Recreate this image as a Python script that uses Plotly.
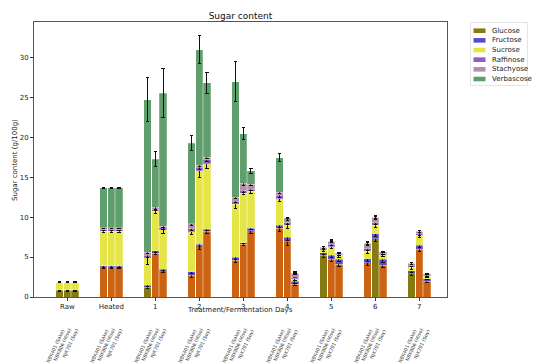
import plotly.graph_objects as go

groups = ["Raw", "Heated", "1", "2", "3", "4", "5", "6", "7"]
strains = ["NBK401 (Sake)", "NBK806 (Miso)", "NJK701 (Soy)"]
sugars = ["Glucose", "Fructose", "Sucrose", "Raffinose", "Stachyose", "Verbascose"]

# values per bar, group-major (Raw: Sake, Miso, Soy; Heated: ...; day 1..7)
glucose = [0.85, 0.85, 0.85, 3.8, 3.8, 3.8, 1.2, 5.5, 3.3, 2.7, 6.4, 8.2, 4.6, 6.6, 8.3,
           8.6, 6.9, 1.6, 5.2, 4.7, 4.1, 4.3, 7.3, 4.0, 2.9, 6.0, 2.0]
fructose = [0.05, 0.05, 0.05, 0.1, 0.1, 0.1, 0.3, 0.3, 0.15, 0.45, 0.2, 0.3, 0.4, 0.2, 0.3,
            0.4, 0.6, 0.4, 0.35, 0.5, 0.6, 0.5, 0.6, 0.7, 0.4, 0.5, 0.3]
sucrose = [0.95, 0.95, 0.95, 4.3, 4.3, 4.3, 3.4, 4.9, 4.95, 5.0, 9.2, 8.2, 6.6, 6.2, 4.6,
           3.3, 1.5, 0.3, 0.35, 1.1, 0.5, 0.9, 1.1, 0.6, 0.4, 1.2, 0.3]
raffinose = [0, 0, 0, 0.2, 0.2, 0.2, 0.3, 0.3, 0.25, 0.4, 0.4, 0.5, 0.4, 0.3, 0.3,
             0.4, 0.3, 0.2, 0.2, 0.3, 0.15, 0.35, 0.3, 0.15, 0.2, 0.25, 0.1]
stachyose = [0, 0, 0, 0.25, 0.25, 0.25, 0.4, 0.2, 0.2, 0.6, 0.3, 0.3, 0.5, 0.9, 0.6,
             0.4, 0.5, 0.5, 0.1, 0.4, 0.15, 0.65, 0.65, 0.2, 0.3, 0.25, 0.2]
verbascose = [0, 0, 0, 5.0, 5.0, 5.0, 19.1, 6.05, 16.65, 10.1, 14.45, 9.3, 14.4, 6.25, 1.7,
              4.3, 0.1, 0, 0, 0, 0, 0, 0, 0, 0, 0, 0]

glucose_err = [0.1, 0.1, 0.1, 0.25, 0.25, 0.25, 0.15, 0.2, 0.2, 0.3, 0.4, 0.3, 0.3, 0.15, 0.3,
               0.4, 0.4, 0.2, 0.3, 0.2, 0.3, 0.3, 0.4, 0.3, 0.2, 0.3, 0.15]
fructose_err = [0.05, 0.05, 0.05, 0.15, 0.15, 0.15, 0.15, 0.2, 0.15, 0.25, 0.3, 0.2, 0.3, 0.15, 0.2,
                0.25, 0.4, 0.3, 0.2, 0.25, 0.3, 0.3, 0.3, 0.35, 0.25, 0.25, 0.15]
sucrose_err = [0.05, 0.05, 0.05, 0.15, 0.15, 0.15, 0.8, 0.3, 0.4, 0.3, 0.8, 0.6, 0.5, 0.2, 0.3,
               0.3, 0.4, 0.2, 0.2, 0.25, 0.25, 0.2, 0.3, 0.2, 0.2, 0.25, 0.15]
raffinose_err = [0.05, 0.05, 0.05, 0.1, 0.1, 0.1, 0.2, 0.2, 0.2, 0.2, 0.2, 0.3, 0.2, 0.2, 0.2,
                 0.2, 0.2, 0.1, 0.1, 0.2, 0.1, 0.2, 0.2, 0.1, 0.1, 0.2, 0.1]
stachyose_err = [0.05, 0.05, 0.05, 0.1, 0.1, 0.1, 0.2, 0.2, 0.2, 0.2, 0.2, 0.2, 0.2, 0.2, 0.2,
                 0.2, 0.2, 0.2, 0.1, 0.2, 0.1, 0.2, 0.2, 0.1, 0.1, 0.1, 0.1]
verbascose_err = [0.05, 0.05, 0.05, 0.1, 0.1, 0.1, 2.7, 0.9, 3.1, 0.9, 1.8, 1.3, 2.5, 0.7, 0.3,
                  0.5, 0.1, 0.05, 0.1, 0.1, 0.1, 0.1, 0.1, 0.1, 0.1, 0.1, 0.1]

# style
OLIVE, ORANGE = "#867b12", "#cc6312"
glucose_shade = [OLIVE, OLIVE, OLIVE, ORANGE, ORANGE, ORANGE, OLIVE, ORANGE, ORANGE,
                 ORANGE, ORANGE, ORANGE, ORANGE, ORANGE, ORANGE, ORANGE, ORANGE, ORANGE,
                 OLIVE, ORANGE, ORANGE, ORANGE, OLIVE, ORANGE, OLIVE, ORANGE, ORANGE]
colors = {"Glucose": OLIVE, "Fructose": "#5a4ec8", "Sucrose": "#e6e548",
          "Raffinose": "#8e5ec6", "Stachyose": "#b38fa8", "Verbascose": "#609e6d"}

values = [glucose, fructose, sucrose, raffinose, stachyose, verbascose]
errors = [glucose_err, fructose_err, sucrose_err, raffinose_err, stachyose_err, verbascose_err]

SP, BW = 0.175, 0.165
xs = [g + (j - 1) * SP for g in range(len(groups)) for j in range(len(strains))]

fig = go.Figure()
for name, vals, errs in zip(sugars, values, errors):
    mc = glucose_shade if name == "Glucose" else colors[name]
    fig.add_trace(go.Bar(
        x=xs, y=vals, width=BW, name=name, showlegend=False,
        marker=dict(color=mc, line=dict(color="rgba(255,255,255,0.6)", width=0.4)),
        error_y=dict(type="data", array=errs, visible=True, color="#111111",
                     thickness=1, width=1.6),
    ))

# plot area pixel geometry
W, H = 550, 363
L, R, T, B = 26, 439, 14, 289
pw, ph = R - L, B - T

FONT = "DejaVu Sans"
fig.update_layout(
    width=W, height=H, barmode="stack",
    margin=dict(l=L, r=W - R, t=T, b=H - B, pad=0, autoexpand=False),
    paper_bgcolor="white", plot_bgcolor="white",
    font=dict(family=FONT, size=7, color="#222222"),
    title=dict(text="Sugar content", x=(L + pw / 2) / W, xanchor="center",
               y=1 - 7.5 / H, yanchor="middle", font=dict(size=9, color="#111111")),
    xaxis=dict(range=[-0.757, 8.63], tickmode="array", tickvals=list(range(len(groups))),
               ticktext=groups, ticks="outside", ticklen=3, tickcolor="#333",
               showline=True, linecolor="#555", linewidth=1, mirror=True, automargin=False,
               showgrid=False, zeroline=False, tickfont=dict(size=7)),
    yaxis=dict(range=[0, 34.4], tickvals=[0, 5, 10, 15, 20, 25, 30], ticks="outside",
               ticklen=3, tickcolor="#333", showline=True, linecolor="#555", linewidth=1,
               mirror=True, showgrid=False, zeroline=False, tickfont=dict(size=7),
               automargin=False),
)

def px(xp):
    return (xp - L) / pw
def py(yp):
    return (B - yp) / ph

ann = []
# axis titles as text
ann.append(dict(x=px(232), xref="paper", y=py(301.5), yref="paper",
                text="Treatment/Fermentation Days", showarrow=False, borderpad=0,
                xanchor="center", yanchor="middle", font=dict(size=7, color="#222222")))
ann.append(dict(x=px(7), xref="paper", y=py(152), yref="paper",
                text="Sugar content (g/100g)", showarrow=False, textangle=-90,
                xanchor="center", yanchor="middle", font=dict(size=7, color="#222222")))

# rotated strain labels under each group
for g in range(len(groups)):
    for j, s in enumerate(strains):
        ann.append(dict(x=g + (j - 1) * SP - 4.5 / 44, xref="x",
                        y=py(338 - 1.2 * j), yref="paper", borderpad=0,
                        text=s, showarrow=False, textangle=-65,
                        xanchor="center", yanchor="middle",
                        font=dict(size=4.8, color="#333333")))

# legend drawn manually
shapes = []
shapes.append(dict(type="rect", xref="paper", yref="paper", x0=px(462.5), x1=px(519.5),
                   y0=py(77.5), y1=py(14.5), line=dict(color="#dddddd", width=0.8),
                   fillcolor="white", layer="above"))
for i, name in enumerate(sugars):
    yc = 22.7 + i * 9.66
    shapes.append(dict(type="rect", xref="paper", yref="paper", x0=px(465.5), x1=px(477.5),
                       y0=py(yc + 2.3), y1=py(yc - 2.3), line=dict(width=0),
                       fillcolor=colors[name], layer="above"))
    ann.append(dict(x=px(481.5), xref="paper", y=py(yc), yref="paper", text=name,
                    showarrow=False, xanchor="left", yanchor="middle",
                    font=dict(size=7, color="#222222")))

fig.update_layout(annotations=ann, shapes=shapes)
fig.write_html("out.html")
